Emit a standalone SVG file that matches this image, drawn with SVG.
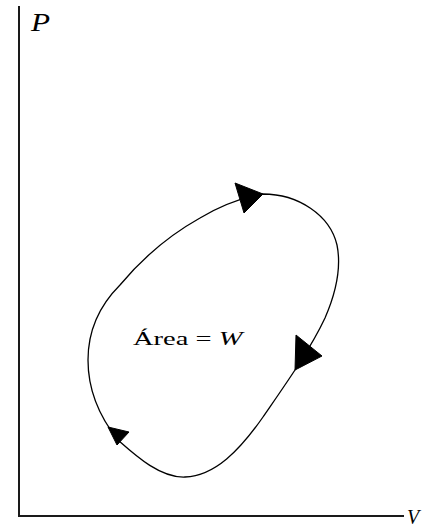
<svg xmlns="http://www.w3.org/2000/svg" width="423" height="527" viewBox="0 0 423 527">
<style>
.axis{fill:none;stroke:#1a1a1a;stroke-width:2}
.cycle{fill:none;stroke:#000;stroke-width:1.3}
.head{fill:#000;stroke:#000;stroke-width:1;stroke-linejoin:miter}
.lbl{font-family:"Liberation Serif","Times New Roman",serif;fill:#000}
.it{font-style:italic}
</style>
<rect width="423" height="527" fill="#fff"/>
<g id="axes">
<polyline class="axis" points="19,6 19,516 404,516"/>
<text class="lbl it" font-size="26" transform="translate(31,31) scale(1.2,1)">P</text>
<text class="lbl it" font-size="20" x="407" y="524">V</text>
</g>
<g id="connectors">
<path id="cycle" class="cycle" d="M263,194 C298,194 330,215 337,245 C342,270 335,295 325,318 C310,350 285,385 263,417 C240,450 215,476 185,477 C160,478 135,455 118,440 C98,415 88,390 88,360 C88,330 100,305 120,285 C145,255 175,232 200,218 C220,206 240,198 263,194 Z"/>
<polygon class="head" points="235,183 263,194 244,213"/>
<polygon class="head" points="296,335 322,356 295,370"/>
<polygon class="head" points="108,427 129,432 117,445"/>
</g>
<g id="area-label">
<text class="lbl" font-size="19" transform="translate(133,345) scale(1.5,1)">Área = <tspan class="it">W</tspan></text>
</g>
</svg>
